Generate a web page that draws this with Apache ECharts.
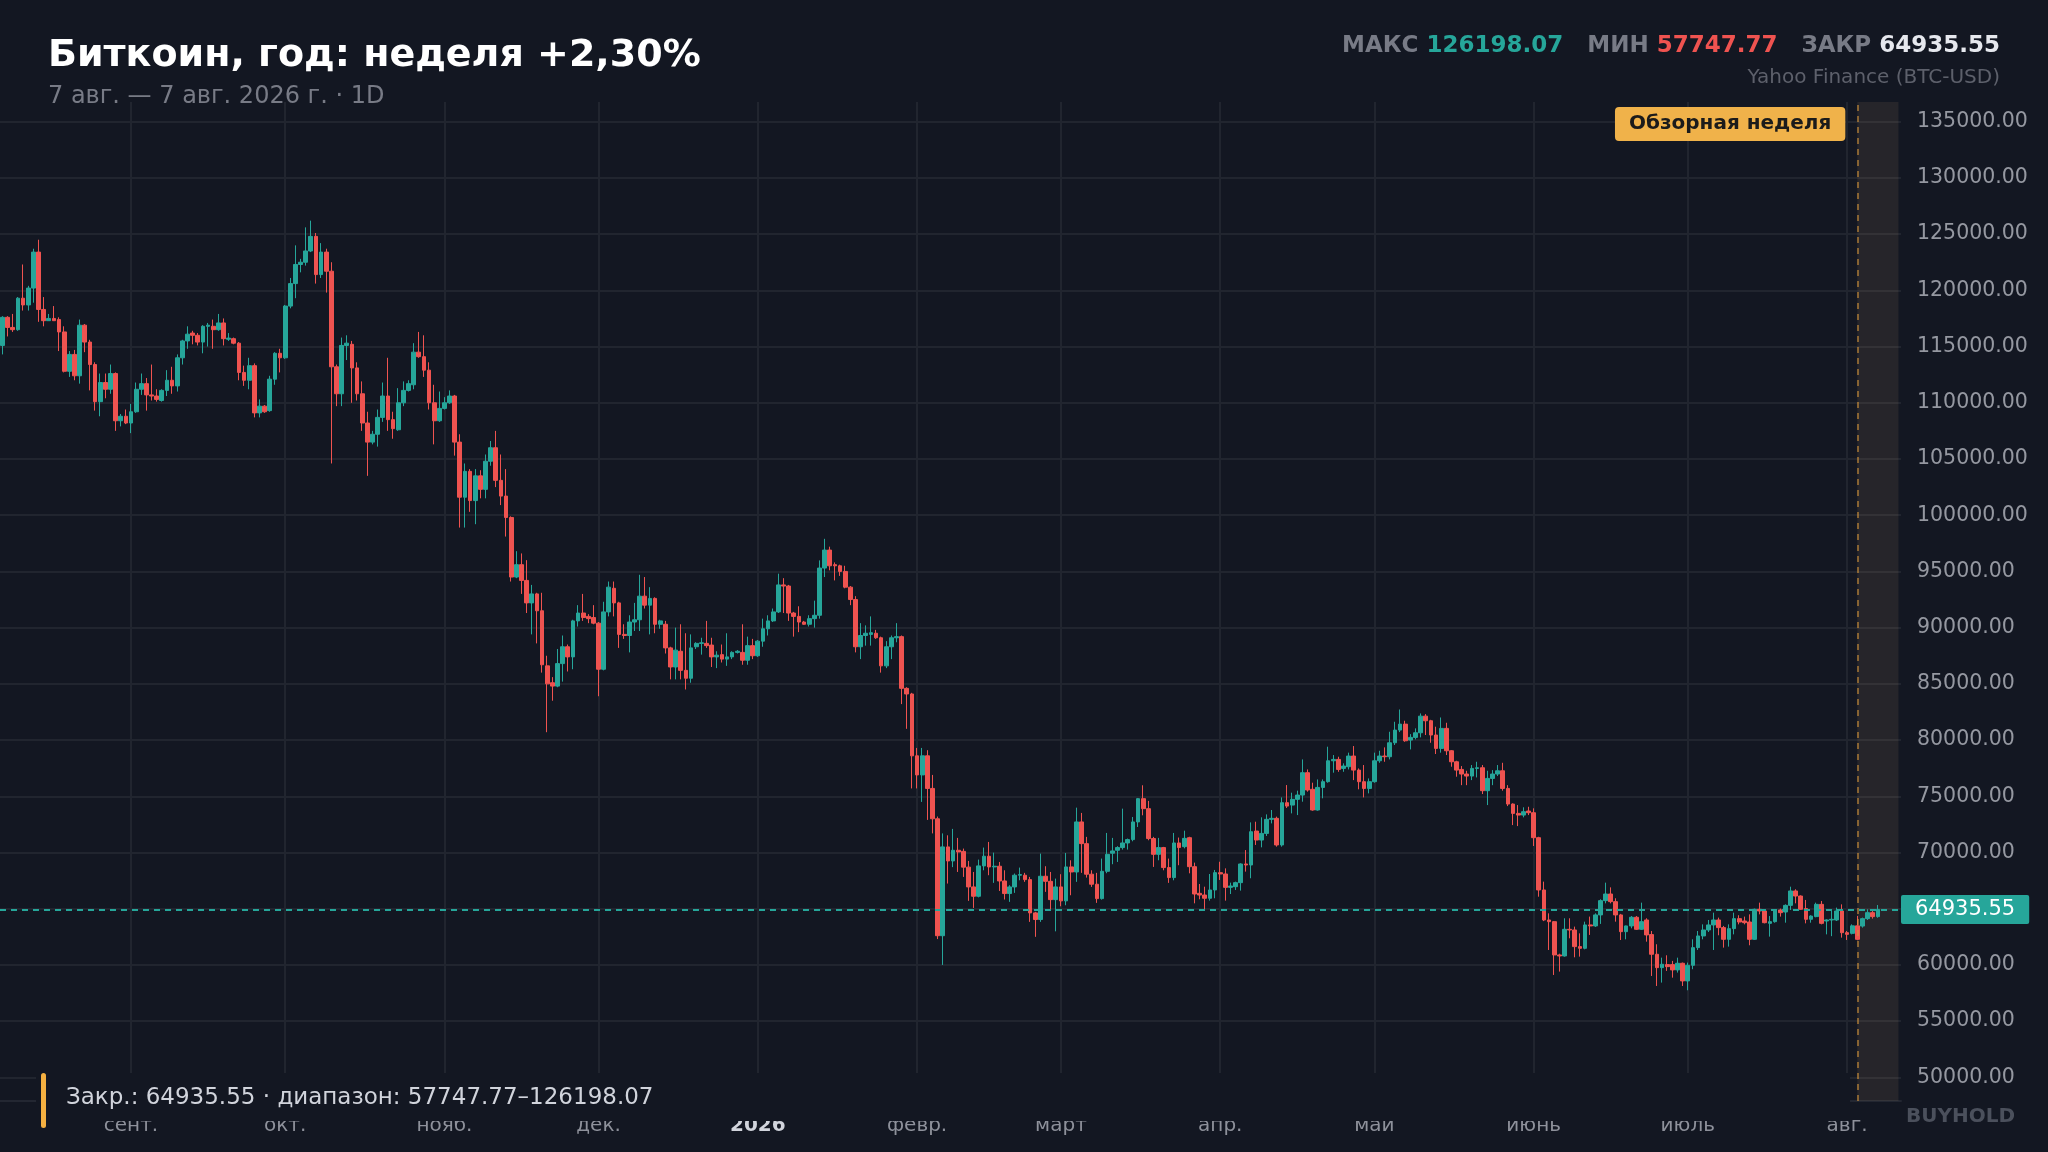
<!DOCTYPE html>
<html>
<head>
<meta charset="utf-8">
<script src="https://cdn.jsdelivr.net/npm/echarts@6/dist/echarts.min.js"></script>
<style>
html,body{margin:0;padding:0;background:#131722;}
#c{width:2048px;height:1152px;}
</style>
</head>
<body>
<div id="c"></div>
<script>
// ---- data ----
const startDate = '2025-08-07';
const dayCount = 370; // axis days (Aug 7 2025 .. Aug 11 2026)
const monthLabels = ['янв.','февр.','март','апр.','май','июнь','июль','авг.','сент.','окт.','нояб.','дек.'];
const yTickValues = [50000,55000,60000,65000,70000,75000,80000,85000,90000,95000,100000,105000,110000,115000,120000,125000,130000,135000];
const reviewWeekStart = '2026-08-03';
const reviewWeekEnd = '2026-08-11';
// [open, close, low, high]
const ohlc = [
[115100,117600,114300,117700],[117600,116700,115900,117700],[116700,116500,116300,117900],[116500,119300,116400,119400],
[119300,118700,118200,122300],[118700,120200,118200,120400],[120200,123400,118900,123700],[123400,118300,117200,124500],
[118300,117300,116800,119400],[117300,117500,117300,117900],[117500,117300,117300,118600],[117400,116300,114600,117600],
[116300,112800,112700,116800],[112800,114300,112300,114600],[114300,112400,112000,114700],[112400,116900,111700,117400],
[116900,115400,114500,117000],[115400,113400,111100,115600],[113400,110100,109300,113600],[110100,111800,108800,112600],
[111800,111200,110400,112600],[111200,112600,110800,113400],[112600,108400,107500,112700],[108400,108800,107900,109000],
[108800,108200,108100,109400],[108200,109200,107300,109900],[109200,111200,109100,111800],[111200,111700,110700,112600],
[111700,110700,109300,112200],[110700,110600,110200,113400],[110600,110300,110100,111200],[110200,111100,110100,111200],
[111100,112000,110600,112900],[112000,111500,110800,113200],[111500,114000,111000,114300],[114000,115500,113400,115600],
[115500,116100,114800,116800],[116200,116000,115200,116400],[116000,115400,115100,116200],[115400,116800,114400,116900],
[116800,116900,115000,117100],[116800,116500,114800,117400],[116500,117100,116400,117900],[117100,115700,115100,117500],
[115650,115750,115500,116200],[115700,115300,115200,115800],[115300,112700,112000,115400],[112700,112000,111500,113300],
[112000,113300,111200,114000],[113300,109100,108700,113500],[109100,109700,108700,110300],[109700,109200,109100,109800],
[109300,112100,109200,112400],[112100,114400,111600,114500],[114400,114000,112700,114800],[114000,118600,113900,118700],
[118600,120600,118400,121100],[120600,122300,119300,124000],[122300,122500,121600,122800],[122500,123500,122200,125600],
[123500,124800,123400,126198.07],[124800,121400,120600,125100],[121400,123400,121100,124200],[123400,121700,119800,123700],
[121700,113200,104600,122500],[113200,110800,109700,113400],[110800,115100,109700,115800],[115100,115300,113800,116000],
[115200,113100,110000,115500],[113100,110800,110200,113600],[110800,108200,107500,111900],[108200,106500,103500,109200],
[106500,107200,106300,107500],[107200,108700,106100,109400],[108700,110600,108300,111800],[110600,108500,107500,114000],
[108500,107700,106800,109200],[107600,110000,107500,111300],[110000,111100,109700,111900],[111100,111700,111000,112000],
[111600,114500,111200,115300],[114500,114100,114000,116300],[114100,112900,112300,116000],[112900,110000,109400,113600],
[110000,108400,106300,111600],[108400,109500,108300,111000],[109500,110000,109400,110500],[110000,110600,109900,111100],
[110600,106500,105300,110700],[106500,101600,98900,107200],[101600,103900,98900,104600],[103900,101300,100300,104100],
[101300,103500,99200,104100],[103500,102300,101500,104000],[102300,104800,101500,105400],[104800,106000,104400,106600],
[106000,103100,102500,107500],[103100,101700,100900,105400],[101700,99800,98100,104100],[99800,94500,94100,99900],
[94500,95600,94400,96800],[95600,94200,93000,96600],[94200,92200,91300,96000],[92200,93000,89400,93800],
[93000,91500,88600,93100],[91500,86700,86000,93100],[86600,85000,80700,87500],[85100,84800,83500,85600],
[84800,86800,84700,88100],[86800,88300,85200,89300],[88300,87400,86100,88500],[87400,90600,86300,90700],
[90600,91300,90100,92000],[91300,90900,90600,93000],[91000,90800,90400,91200],[90900,90400,90300,92000],
[90400,86300,83900,90500],[86300,91400,86200,92300],[91400,93600,91000,94100],[93500,92200,91000,94100],
[92200,89400,88200,92300],[89400,89300,89000,90300],[89300,90500,87800,91100],[90500,90700,89700,92200],
[90700,92800,89700,94700],[92800,92000,91700,94500],[92000,92600,89400,93600],[92600,90300,89500,92700],
[90300,90600,89900,90700],[90300,88200,87700,90600],[88200,86500,85400,88300],[86500,88000,85400,90000],
[87900,86200,85400,90300],[86200,85500,84500,89500],[85500,88200,85100,89400],[88300,88600,88100,88700],
[88600,88650,87600,89100],[88600,88400,88200,90600],[88450,87400,86500,89100],[87400,87550,86400,87900],
[87600,87200,86900,88500],[87200,87400,86600,89500],[87400,87800,87200,87900],[87800,87900,87700,88000],
[87800,87100,86700,90300],[87100,88400,86700,89200],[88400,87500,87200,89000],[87500,88800,87400,88900],
[88800,89900,88300,90800],[89900,90600,89300,91100],[90600,91400,90500,91700],[91400,93800,91300,94800],
[93800,93700,91300,94400],[93700,91300,90600,93800],[91300,91000,89200,91400],[91000,90500,89600,91900],
[90500,90300,90250,90600],[90300,90800,90100,91100],[90800,91100,90000,92400],[91100,95300,90800,95980],
[95300,96900,94500,97900],[96900,95500,95100,97200],[95600,95500,94200,95800],[95500,95000,94600,95600],
[95000,93600,93500,95500],[93600,92500,92000,93700],[92500,88300,87800,92800],[88300,89300,87200,90400],
[89300,89500,88400,90200],[89400,89550,88400,91000],[89500,89100,89000,89800],[89100,86600,86000,89200],
[86600,88300,86400,88800],[88300,89100,87200,89300],[89100,89200,88700,90400],[89200,84600,83200,89300],
[84600,84100,81000,84700],[84100,78600,75700,84200],[78600,76900,75700,79300],[76900,78600,74500,79300],
[78600,75700,72900,79100],[75700,73000,71700,76900],[73000,62600,62300,73200],[62600,70500,60000,71700],
[70500,69250,67240,71530],[69250,70200,68700,72100],[70200,70050,68270,71300],[70100,68700,67830,70350],
[68700,66940,65700,69250],[66940,66110,65070,68270],[66110,68810,66010,69370],[68810,69670,68420,70440],
[69670,68720,67980,70940],[68720,68780,67300,69990],[68780,67470,66580,69160],[67470,66350,65820,68420],
[66350,66940,65610,67090],[66940,67980,66410,68130],[67980,68040,67530,68660],[67980,67590,67390,68190],
[67590,64630,63830,67830],[64630,64040,62500,64720],[64040,67890,63830,69900],[67890,67440,66500,68780],
[67440,65810,64870,68270],[65810,66940,62990,67680],[66940,65700,65220,68070],[65700,68720,65310,69960],
[68720,68270,66200,69310],[68270,72720,67390,73990],[72720,70790,68190,73520],[70790,68070,67770,71390],
[68070,67180,66940,68420],[67180,65900,65520,68190],[65900,68330,65810,69460],[68330,69840,68160,71740],
[69940,70140,68960,71300],[70200,70440,69160,70560],[70440,70850,70260,73900],[70850,71150,70260,71240],
[71150,72720,71000,73160],[72720,74790,72270,74850],[74790,73900,73310,75980],[73900,71240,71090,74590],
[71240,69840,68720,71390],[69840,70440,69310,71300],[70440,68660,68420,70500],[68660,67770,67300,69460],
[67770,70850,67530,71740],[70850,70440,68870,71330],[70520,71260,70370,71940],[71320,68740,68150,71400],
[68740,66310,65480,69100],[66370,66220,65840,67200],[66220,65930,64950,66960],[65930,66670,65720,68090],
[66670,68210,65930,68450],[68210,68090,67560,69180],[68090,66900,65720,68590],[66900,67020,66310,67320],
[66960,67320,66670,67410],[67320,68980,66610,69040],[68980,68890,68300,70220],[68890,71850,67710,72680],
[71910,71110,70670,72740],[71110,71700,70460,73130],[71700,72950,71470,73390],[72950,73040,72590,73780],
[73040,70670,70520,73190],[70670,74430,70520,74900],[74430,74130,73960,76000],[74220,74730,73480,75320],
[74730,75110,73330,75500],[75110,77100,74520,78280],[77100,75560,75410,77390],[75620,73780,73720,76210],
[73780,75790,73720,76500],[75790,76300,74820,76500],[76300,78160,76210,79410],[78160,78280,77100,78670],
[78280,77390,77180,78520],[77480,77690,77180,77930],[77630,78580,77390,78880],[78580,77330,76440,79470],
[77330,76300,75620,77480],[76300,75700,74900,77780],[75700,76300,75260,76590],[76300,78160,76210,78880],
[78160,78580,77980,79050],[78580,78520,78070,79350],[78520,79760,78280,80740],[79760,80890,79560,81630],
[80890,81420,80710,82720],[81420,79940,79850,81720],[80000,80240,79170,80530],[80240,80650,80060,81040],
[80650,82130,80240,82370],[82130,81720,80450,82310],[81720,80450,79760,81800],[80450,79260,78760,81190],
[79260,81040,78880,82010],[81040,79050,78670,81540],[79050,78070,77630,79110],[78070,77330,76740,78160],
[77390,76980,75990,77690],[76980,76800,75990,77270],[76800,77480,76440,77780],[77480,77540,76680,78070],
[77540,75500,75200,77780],[75500,76590,74220,77270],[76590,76980,75990,77330],[76980,77270,76800,77780],
[77270,75700,75500,77980],[75700,74310,74130,75990],[74310,73480,72440,74370],[73480,73330,72350,74220],
[73330,73630,73130,74020],[73690,73540,73330,74070],[73540,71320,70580,73930],[71320,66670,66070,71400],
[66670,64000,63900,67410],[64000,63850,61330,64590],[63850,60890,59110,63900],[60890,60800,59410,61000],
[60800,63170,60740,64150],[63170,63110,62370,64150],[63110,61630,60680,63410],[61630,61480,60740,62810],
[61480,63560,61390,63850],[63560,63470,62670,64300],[63470,64450,63380,64590],[64450,65720,63650,65840],
[65720,66310,65480,67320],[66310,65630,65480,66900],[65630,64450,63850,65930],[64450,62960,62220,64540],
[62960,63470,62280,63500],[63470,64240,63260,64350],[64240,63170,63110,64350],[63170,63850,63110,65540],
[64000,62670,62070,64150],[62700,60950,59020,63020],[60950,59760,58130,61840],[59760,60060,58430,60650],
[60030,59850,59470,60860],[60030,59560,58870,60360],[59560,60150,59320,60650],[60150,58580,58130,60210],
[58580,59970,57747.77,60210],[59970,61540,59620,62280],[61540,62580,61330,63020],[62580,63110,62280,63610],
[63110,63560,62930,64000],[63560,64000,61330,64650],[64000,63320,62640,64210],[63320,62280,61540,63470],
[62280,63230,61630,63610],[63230,64120,62720,64650],[64120,63820,63610,64420],[63910,63760,63610,64300],
[63820,62280,61750,64500],[62280,64950,62220,65010],[64950,64800,64500,65540],[64800,63760,63700,64950],
[63700,63850,62520,64350],[63850,64800,63760,64950],[64890,64650,64300,65010],[64710,65300,63760,65390],
[65300,66580,64890,66960],[66580,66130,65480,66730],[66130,64950,64890,66190],[65010,64060,63700,65780],
[64060,64350,63760,64420],[64300,65390,64240,65540],[65390,63700,63610,65690],[63910,64000,62720,64060],
[64000,64060,62560,64800],[64000,64800,63910,65100],[64800,62870,62430,65390],[62870,62720,62220,63020],
[62810,63476,62720,63610],[63476,62280,62200,64360],[63460,64120,63320,64210],[64120,64650,64000,64950],
[64650,64300,64120,64800],[64300,64935.55,64200,65330]
];

// ---- derived ----
const categories = [];
{
  const d0 = new Date(startDate + 'T00:00:00Z');
  for (let i = 0; i < dayCount; i++) {
    const d = new Date(d0.getTime() + i * 86400000);
    categories.push(d.toISOString().slice(0, 10));
  }
}
const highs = ohlc.map(r => r[3]);
const lows = ohlc.map(r => r[2]);
const maxHigh = Math.max(...highs);
const minLow = Math.min(...lows);
const lastClose = ohlc[ohlc.length - 1][1];
const fmt = v => v.toFixed(2);

const UP = '#26a69a', DOWN = '#ef5350', BG = '#131722';
const FONT = 'DejaVu Sans';

const chart = echarts.init(document.getElementById('c'), null, {renderer: 'canvas'});
const isMonthStart = (idx, val) => typeof val === 'string' && val.slice(8, 10) === '01';

chart.setOption({
  backgroundColor: BG,
  animation: false,
  textStyle: {fontFamily: FONT},
  title: [
    {
      text: 'Биткоин, год: неделя +2,30%',
      subtext: '7 авг. — 7 авг. 2026 г. · 1D',
      left: 43, top: 29, itemGap: 5,
      textStyle: {color: '#ffffff', fontSize: 38, fontWeight: 'bold', lineHeight: 44, fontFamily: FONT},
      subtextStyle: {color: '#787b86', fontSize: 24, lineHeight: 27, fontFamily: FONT}
    },
    {
      text: '{l|МАКС} {g|' + fmt(maxHigh) + '}   {l|МИН} {r|' + fmt(minLow) + '}   {l|ЗАКР} {w|' + fmt(lastClose) + '}',
      right: 43, top: 27,
      textStyle: {
        fontSize: 23, lineHeight: 28, fontFamily: FONT,
        rich: {
          l: {color: '#787b86', fontSize: 23, fontWeight: 'bold', fontFamily: FONT},
          g: {color: UP, fontSize: 23, fontWeight: 'bold', fontFamily: FONT},
          r: {color: DOWN, fontSize: 23, fontWeight: 'bold', fontFamily: FONT},
          w: {color: '#e6e8ee', fontSize: 23, fontWeight: 'bold', fontFamily: FONT}
        }
      }
    },
    {
      text: 'Yahoo Finance (BTC-USD)',
      right: 43, top: 61,
      textStyle: {color: '#5d606b', fontSize: 20, fontWeight: 'normal', lineHeight: 24, fontFamily: FONT}
    }
  ],
  grid: {left: -1.6, right: 147, top: 102, bottom: 51, containLabel: false},
  xAxis: {
    type: 'category',
    data: categories,
    boundaryGap: true,
    axisLine: {show: true, lineStyle: {color: '#232732', width: 2}},
    axisTick: {show: false},
    axisLabel: {
      interval: isMonthStart,
      margin: 15,
      color: '#8e919b',
      fontSize: 20,
      fontFamily: FONT,
      formatter: function (val) {
        const m = parseInt(val.slice(5, 7), 10) - 1;
        if (m === 0) return '{b|' + val.slice(0, 4) + '}';
        return monthLabels[m];
      },
      rich: {b: {fontWeight: 'bold', color: '#d1d4dc', fontSize: 20, fontFamily: FONT}}
    },
    splitLine: {show: true, interval: isMonthStart, alignWithLabel: true, lineStyle: {color: '#21252f', width: 2}}
  },
  yAxis: {
    type: 'value',
    position: 'right',
    min: 47900,
    max: 136750,
    splitNumber: yTickValues.length,
    axisLine: {show: false},
    axisTick: {show: false},
    axisLabel: {
      showMinLabel: false, showMaxLabel: false,
      margin: 16, color: '#9598a1', fontSize: 20.5, fontFamily: FONT,
      formatter: v => v.toFixed(2)
    },
    splitLine: {show: true, showMinLine: false, showMaxLine: false, lineStyle: {color: '#21252f', width: 2}}
  },
  series: [{
    type: 'candlestick',
    data: ohlc,
    barWidth: '82%',
    itemStyle: {color: UP, color0: DOWN, borderColor: UP, borderColor0: DOWN, borderWidth: 1},
    markArea: {
      silent: true,
      itemStyle: {color: 'rgba(230,190,130,0.09)'},
      label: {
        show: true,
        position: [-12, 5],
        align: 'right',
        verticalAlign: 'top',
        formatter: 'Обзорная неделя',
        color: '#1b1b1b',
        fontSize: 20,
        fontWeight: 'bold',
        fontFamily: FONT,
        backgroundColor: '#f0b24a',
        borderRadius: 4,
        padding: [7, 14]
      },
      data: [[{xAxis: reviewWeekStart}, {xAxis: reviewWeekEnd}]]
    },
    markLine: {
      silent: true,
      symbol: ['none', 'none'],
      data: [
        {
          yAxis: lastClose,
          lineStyle: {color: UP, type: [6, 5], width: 2},
          label: {
            show: true, position: 'end', distance: 0,
            formatter: fmt(lastClose),
            color: '#ffffff', fontSize: 21, fontFamily: FONT,
            backgroundColor: UP, padding: [4, 14], borderRadius: 2
          }
        },
        {
          xAxis: reviewWeekStart,
          lineStyle: {color: 'rgba(214,150,60,0.75)', type: [6, 5], width: 1.5},
          label: {show: false}
        }
      ]
    }
  }],
  graphic: [
    {type: 'rect', z: 100, shape: {x: 36, y: 1073, width: 1814, height: 48}, style: {fill: BG}},
    {type: 'rect', z: 101, shape: {x: 41, y: 1073, width: 5, height: 55, r: 2.5}, style: {fill: '#f5b041'}},
    {type: 'text', z: 101, x: 66, y: 1098,
      style: {text: 'Закр.: ' + fmt(lastClose) + ' · диапазон: ' + fmt(minLow) + '–' + fmt(maxHigh),
        fill: '#d1d4dc', fontSize: 23, fontFamily: FONT, textVerticalAlign: 'middle', verticalAlign: 'middle'}},
    {type: 'text', z: 101, x: 2015, y: 1117,
      style: {text: 'BUYHOLD', fill: '#4b505c', fontSize: 20, fontWeight: 'bold', fontFamily: FONT,
        align: 'right', textAlign: 'right', verticalAlign: 'middle', textVerticalAlign: 'middle'}}
  ]
});
</script>
</body>
</html>
